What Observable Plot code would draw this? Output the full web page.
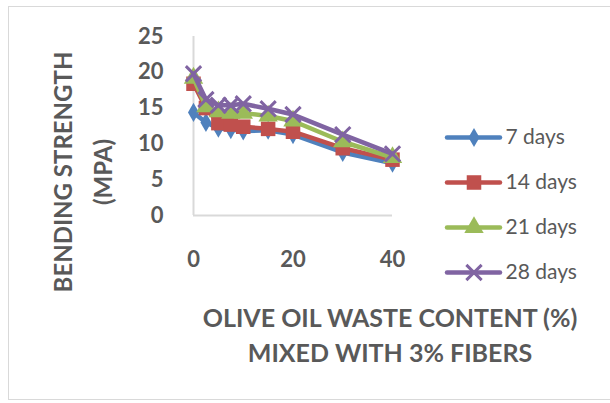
<!DOCTYPE html>
<html>
<head>
<meta charset="utf-8">
<script src="https://cdn.jsdelivr.net/npm/d3@7"></script>
<script src="https://cdn.jsdelivr.net/npm/@observablehq/plot@0.6"></script>
<style>
  html, body { margin: 0; padding: 0; background: #fff; }
  #wrap { position: relative; width: 610px; height: 403px; overflow: hidden; background: #fff; }
  #border { position: absolute; left: 8px; top: 6px; width: 620px; height: 394px; border: 1.5px solid #d9d9d9; box-sizing: border-box; }
  #chart { position: absolute; left: 0; top: 0; }
  #legend { position: absolute; left: 440px; top: 110px; }
</style>
</head>
<body>
<div id="wrap">
  <div id="border"></div>
  <div id="chart"></div>
  <div id="legend"></div>
</div>
<script>
// Olive oil waste content (%) mixed with 3% fibers
const content = [0, 2.5, 5, 7.5, 10, 15, 20, 30, 40];

// Bending strength (MPa) by curing age
const days7  = [14.4, 13.0, 12.2, 12.0, 11.8, 11.9, 11.3, 8.8, 7.3];
const days14 = [18.4, 15.0, 12.9, 12.7, 12.4, 12.1, 11.7, 9.4, 7.8];
const days21 = [19.2, 15.2, 14.5, 14.3, 14.3, 13.9, 13.2, 10.3, 8.1];
const days28 = [19.8, 16.2, 15.4, 15.4, 15.6, 14.9, 14.1, 11.3, 8.6];

const seriesNames = ["7 days", "14 days", "21 days", "28 days"];
const seriesValues = [days7, days14, days21, days28];
const seriesColors = ["#4f81bd", "#c0504d", "#9bbb59", "#8064a2"];
const seriesSymbols = ["diamond", "square", "triangle", "times"];
const symbolRadius = [5.8, 8.2, 7.2, 7.0];

const yTicks = [0, 5, 10, 15, 20, 25];
const xTicks = [0, 20, 40];

const rows = seriesNames.flatMap((name, i) =>
  content.map((x, j) => ({series: name, x, y: seriesValues[i][j]}))
);

const font = "Lato, 'Open Sans', sans-serif";
const grey = "#595959";

// Markers for one series: filled symbols, except the stroked cross
function markers(name, i) {
  const data = rows.filter(d => d.series === name);
  const sym = seriesSymbols[i];
  if (sym === "times") {
    return Plot.dot(data, {x: "x", y: "y", symbol: () => sym, r: symbolRadius[i],
      stroke: "series", strokeWidth: 3, fill: "none"});
  }
  return Plot.dot(data, {x: "x", y: "y", symbol: () => sym, r: symbolRadius[i],
    fill: "series", stroke: "none"});
}

const seriesMarks = seriesNames.flatMap((name, i) => [
  Plot.line(rows.filter(d => d.series === name), {x: "x", y: "y", stroke: "series",
    strokeWidth: 4.5, strokeLinejoin: "round", strokeLinecap: "round"}),
  markers(name, i)
]);

const chart = Plot.plot({
  width: 610,
  height: 403,
  marginLeft: 193,
  marginRight: 218,
  marginTop: 36,
  marginBottom: 188,
  style: {background: "transparent", fontFamily: font},
  x: {domain: [0, 40]},
  y: {domain: [0, 25]},
  color: {domain: seriesNames, range: seriesColors},
  symbol: {domain: seriesSymbols, range: seriesSymbols},
  marks: [
    Plot.ruleX([0], {y1: 0, y2: 25, stroke: "#d9d9d9", strokeWidth: 2}),
    Plot.ruleY([0], {x1: 0, x2: 40, stroke: "#d9d9d9", strokeWidth: 2}),
    Plot.axisY(yTicks, {tickSize: 0, tickPadding: 30, label: null,
      fontSize: 22, fontWeight: "bold", fill: grey}),
    Plot.axisX(xTicks, {tickSize: 0, tickPadding: 36, label: null,
      fontSize: 22, fontWeight: "bold", fill: grey, letterSpacing: 3}),
    ...seriesMarks,
    Plot.text(["BENDING STRENGTH\n(MPA)"], {frameAnchor: "left", dx: -114, dy: 46,
      rotate: -90, lineHeight: 1.67, lineAnchor: "middle", fontSize: 24, fontWeight: "bold",
      fill: grey, textAnchor: "middle"}),
    Plot.text(["OLIVE OIL WASTE CONTENT (%)\nMIXED WITH 3% FIBERS"], {frameAnchor: "bottom",
      dx: 97, dy: 118, lineHeight: 1.4, lineAnchor: "middle", fontSize: 25, fontWeight: "bold",
      fill: grey, textAnchor: "middle"})
  ]
});
document.getElementById("chart").append(chart);

// Legend: line swatch with marker, then the series name
const legendMarks = seriesNames.flatMap((name, i) => {
  const mark = seriesSymbols[i] === "times"
    ? Plot.dot([name], {x: () => 0.5, y: d => d, symbol: () => "times", r: symbolRadius[i],
        stroke: d => d, strokeWidth: 3, fill: "none"})
    : Plot.dot([name], {x: () => 0.5, y: d => d, symbol: () => seriesSymbols[i], r: symbolRadius[i],
        fill: d => d});
  return [
    Plot.ruleY([name], {y: d => d, x1: 0, x2: 1, stroke: d => d, strokeWidth: 4.5, strokeLinecap: "round"}),
    mark
  ];
});

const legend = Plot.plot({
  width: 170,
  height: 190,
  marginLeft: 7,
  marginRight: 110,
  marginTop: 26,
  marginBottom: 28,
  style: {background: "transparent", fontFamily: font},
  x: {domain: [0, 1], axis: null},
  y: {type: "point", domain: seriesNames, padding: 0, axis: null},
  color: {domain: seriesNames, range: seriesColors},
  symbol: {domain: seriesSymbols, range: seriesSymbols},
  marks: [
    ...legendMarks,
    Plot.text(seriesNames, {x: () => 1, y: d => d, text: d => d, dx: 5, textAnchor: "start",
      fontSize: 21, fill: grey})
  ]
});
document.getElementById("legend").append(legend);
</script>
</body>
</html>
